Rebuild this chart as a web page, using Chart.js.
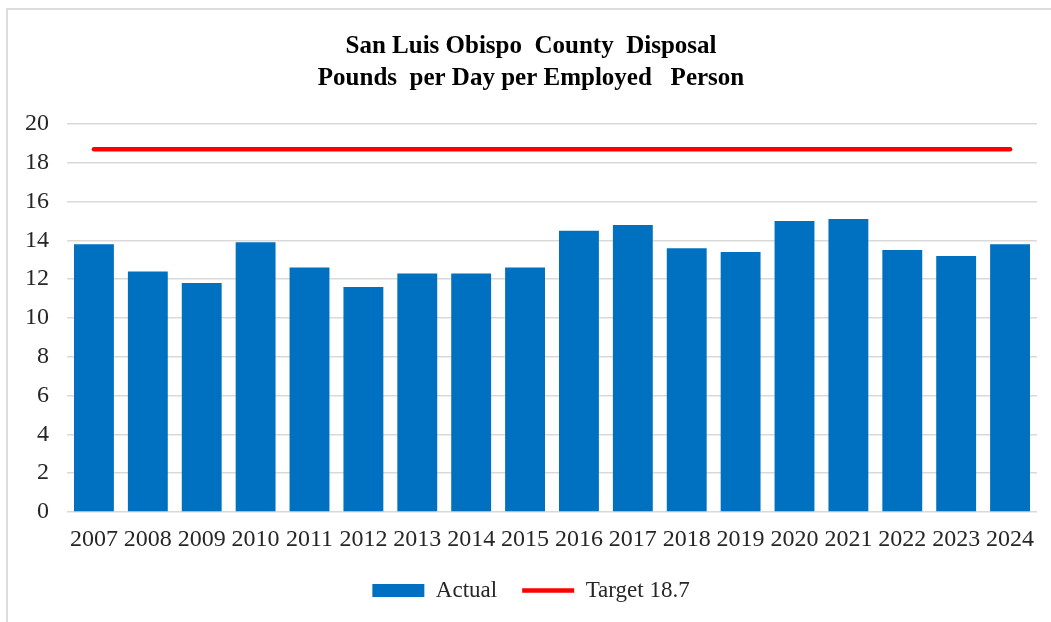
<!DOCTYPE html>
<html>
<head>
<meta charset="utf-8">
<script src="https://cdn.jsdelivr.net/npm/chart.js@4"></script>
<style>
  body { margin: 0; background: #fff; }
  #wrap { position: relative; width: 1051px; height: 622px; overflow: hidden; }
  #frame { position: absolute; left: 6px; top: 8px; width: 1100px; height: 700px;
           border-left: 2px solid #dcdcdc; border-top: 2px solid #dcdcdc; }
  #chart { position: absolute; left: 0; top: 0; }
</style>
</head>
<body>
<div id="wrap">
  <div id="frame"></div>
  <canvas id="chart" width="1051" height="622"></canvas>
</div>
<script>
const years = ["2007","2008","2009","2010","2011","2012","2013","2014","2015",
               "2016","2017","2018","2019","2020","2021","2022","2023","2024"];
const actual = [13.8, 12.4, 11.8, 13.9, 12.6, 11.6, 12.3, 12.3, 12.6,
                14.5, 14.8, 13.6, 13.4, 15.0, 15.1, 13.5, 13.2, 13.8];
const target = [18.7, 18.7, 18.7, 18.7, 18.7, 18.7, 18.7, 18.7, 18.7,
                18.7, 18.7, 18.7, 18.7, 18.7, 18.7, 18.7, 18.7, 18.7];
const yTicks = [0, 2, 4, 6, 8, 10, 12, 14, 16, 18, 20];

const serif = "'Liberation Serif', 'Times New Roman', serif";

const ctx = document.getElementById("chart");

const chart = new Chart(ctx, {
  data: {
    labels: years,
    datasets: [
      {
        type: "bar",
        label: "Actual",
        data: actual,
        backgroundColor: "#0070c0",
        borderWidth: 0,
        categoryPercentage: 0.74,
        barPercentage: 1,
        order: 2
      },
      {
        type: "line",
        label: "Target 18.7",
        data: target,
        borderColor: "#ff0000",
        backgroundColor: "#ff0000",
        borderWidth: 4.5,
        borderCapStyle: "round",
        pointRadius: 0,
        fill: false,
        order: 1
      }
    ]
  },
  options: {
    responsive: false,
    animation: false,
    layout: { padding: { left: 25, right: 14, top: 0, bottom: 10 } },
    plugins: {
      title: {
        display: true,
        text: ["San Luis Obispo  County  Disposal", "Pounds  per Day per Employed   Person"],
        font: { family: serif, size: 25, weight: "bold", lineHeight: 1.3 },
        color: "#000",
        padding: { top: 30, bottom: 29 }
      },
      legend: {
        position: "bottom",
        labels: {
          font: { family: serif, size: 23 },
          color: "#262626",
          usePointStyle: true,
          pointStyleWidth: 52,
          boxHeight: 13,
          padding: 25,
          sort: (a, b) => a.datasetIndex - b.datasetIndex,
          generateLabels(c) {
            const items = Chart.defaults.plugins.legend.labels.generateLabels(c);
            items.forEach(it => {
              if (it.datasetIndex === 0) {
                it.pointStyle = "rect";
                it.lineWidth = 0;
              } else {
                it.pointStyle = "line";
              }
            });
            return items;
          }
        }
      },
      tooltip: { enabled: false }
    },
    scales: {
      x: {
        grid: { display: false, drawTicks: false },
        border: { display: false },
        ticks: {
          font: { family: serif, size: 24 },
          color: "#262626",
          maxRotation: 0,
          autoSkip: false,
          padding: 13
        },
        afterFit(axis) {
          axis.height = 42;
          axis.paddingLeft = 0;
          axis.paddingRight = 0;
        }
      },
      y: {
        min: 0,
        max: 20,
        afterBuildTicks(axis) { axis.ticks = yTicks.map(v => ({ value: v })); },
        grid: { color: "#d9d9d9", lineWidth: 1.5, drawTicks: false },
        border: { display: false },
        ticks: {
          font: { family: serif, size: 24 },
          color: "#262626",
          padding: 18
        },
        afterFit(axis) { axis.width = 42; }
      }
    }
  }
});
</script>
</body>
</html>
